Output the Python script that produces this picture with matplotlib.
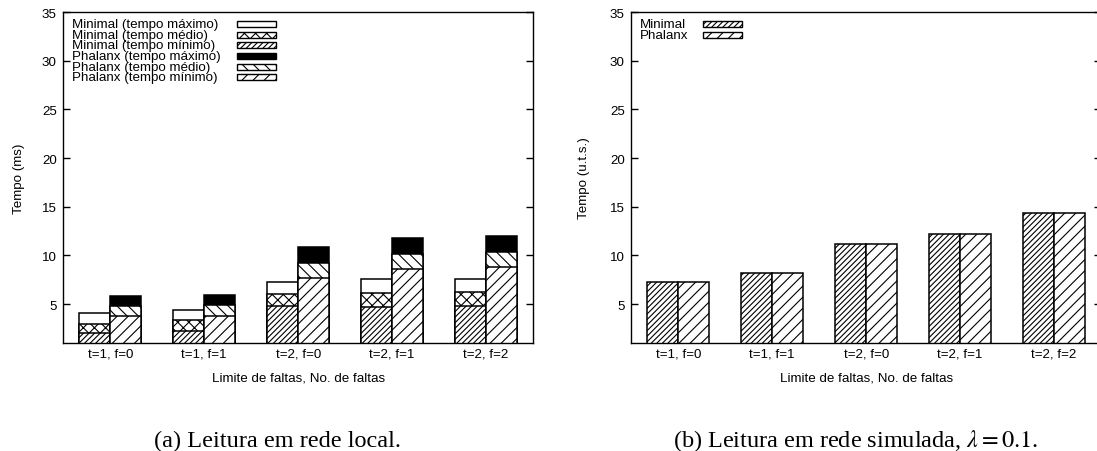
import matplotlib
matplotlib.use("Agg")
import matplotlib.pyplot as plt
from matplotlib.patches import Rectangle
import numpy as np

plt.rcParams['font.family'] = ['Liberation Sans', 'DejaVu Sans']
plt.rcParams['mathtext.fontset'] = 'stix'
plt.rcParams['hatch.linewidth'] = 0.8

# dados
grupos = ["t=1, f=0", "t=1, f=1", "t=2, f=0", "t=2, f=1", "t=2, f=2"]

# (a) rede local, tempo em ms
minimal_max = [4.05, 4.38, 7.23, 7.54, 7.60]
minimal_med = [3.00, 3.32, 6.00, 6.13, 6.23]
minimal_min = [2.08, 2.26, 4.76, 4.69, 4.83]
phalanx_max = [5.80, 5.93, 10.89, 11.78, 11.98]
phalanx_med = [4.76, 4.87, 9.21, 10.17, 10.34]
phalanx_min = [3.80, 3.80, 7.64, 8.63, 8.83]

# (b) rede simulada, u.t.s.
sim_minimal = [7.23, 8.19, 11.20, 12.16, 14.36]
sim_phalanx = [7.23, 8.19, 11.20, 12.16, 14.36]

W = 0.33
FS = 9.6
x = np.arange(len(grupos))

fig = plt.figure(figsize=(10.97, 4.52), dpi=100)
ax1 = fig.add_axes([0.0577, 0.2389, 0.4282, 0.7323])
ax2 = fig.add_axes([0.5755, 0.2389, 0.4282, 0.7323])

estilo = dict(edgecolor='black', linewidth=1.1, align='edge')

# series: (rotulo, valores, lado, cor, hachura)
series_a = [
    ("Minimal (tempo máximo)", minimal_max, -W, 'white', ''),
    ("Minimal (tempo médio)", minimal_med, -W, 'white', 'xxx'),
    ("Minimal (tempo mínimo)", minimal_min, -W, 'white', '//////'),
    ("Phalanx (tempo máximo)", phalanx_max, 0, 'black', ''),
    ("Phalanx (tempo médio)", phalanx_med, 0, 'white', '\\\\\\'),
    ("Phalanx (tempo mínimo)", phalanx_min, 0, 'white', '///'),
]
series_b = [
    ("Minimal", sim_minimal, -W, 'white', '//////'),
    ("Phalanx", sim_phalanx, 0, 'white', '///'),
]


def desenha(ax, series, leg_x, sw_x, ylabel, lpad):
    for rot, vals, off, cor, hat in series:
        ax.bar(x + off, vals, W, color=cor, hatch=hat, **estilo)
    # legenda feita a mao, tipo gnuplot
    for i, (rot, vals, off, cor, hat) in enumerate(series):
        yy = 0.964 - i * 0.0322
        ax.text(leg_x, yy, rot, transform=ax.transAxes, fontsize=FS,
                va='center', ha='left')
        ax.add_patch(Rectangle((sw_x, yy - 0.009), 0.083, 0.018,
                               transform=ax.transAxes, facecolor=cor,
                               edgecolor='black', hatch=hat, linewidth=1.0))
    ax.set_xlim(-0.5, 4.5)
    ax.set_ylim(1, 35)
    ax.set_yticks([5, 10, 15, 20, 25, 30, 35])
    ax.set_xticks(x)
    ax.set_xticklabels(grupos)
    ax.tick_params(axis='y', direction='in', length=5, width=1,
                   right=True, labelsize=FS, pad=4.7)
    ax.tick_params(axis='x', length=0, labelsize=FS, pad=3)
    for s in ax.spines.values():
        s.set_linewidth(1.0)
    ax.set_xlabel("Limite de faltas, No. de faltas", fontsize=FS, labelpad=9)
    ax.set_ylabel(ylabel, fontsize=FS, labelpad=lpad)


desenha(ax1, series_a, 0.018, 0.37, "Tempo (ms)", 12)
desenha(ax2, series_b, 0.0185, 0.153, "Tempo (u.t.s.)", 14)

fig.text(0.253, 0.012, "(a) Leitura em rede local.", family='Liberation Serif',
         fontsize=17.5, ha='center', va='baseline')
fig.text(0.780, 0.012, r"(b) Leitura em rede simulada, $\lambda = 0.1$.",
         family='Liberation Serif', fontsize=17.5, ha='center', va='baseline')

fig.savefig("out.png", dpi=100)
